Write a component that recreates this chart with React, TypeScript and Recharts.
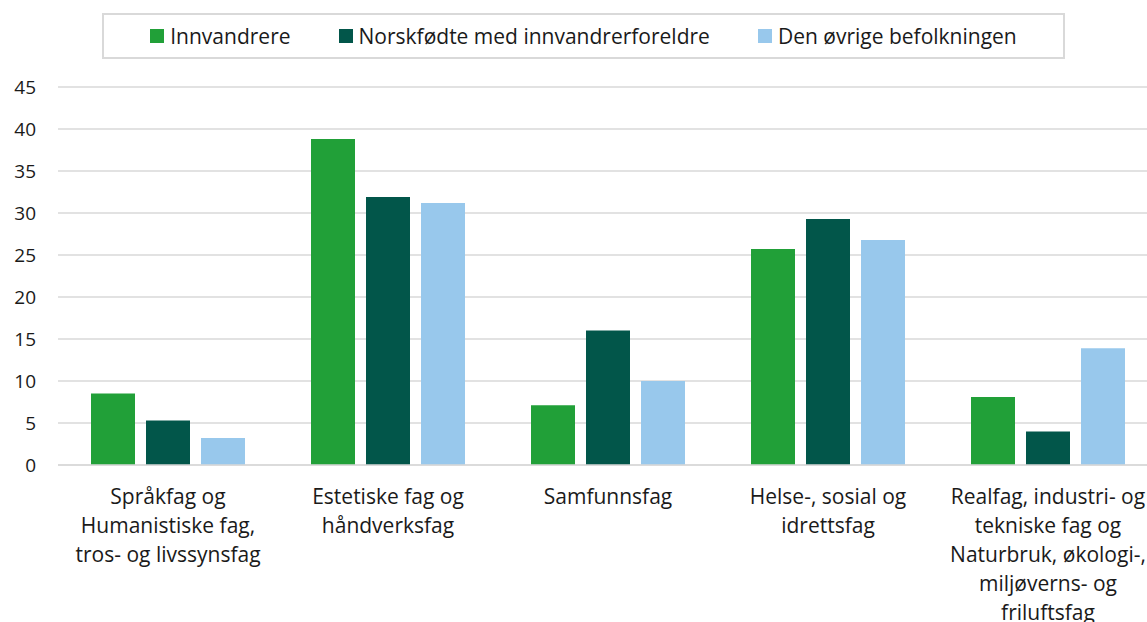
import { BarChart, Bar, XAxis, YAxis, CartesianGrid, Legend } from "recharts";

const categories = [
  "Språkfag og\nHumanistiske fag,\ntros- og livssynsfag",
  "Estetiske fag og\nhåndverksfag",
  "Samfunnsfag",
  "Helse-, sosial og\nidrettsfag",
  "Realfag, industri- og\ntekniske fag og\nNaturbruk, økologi-,\nmiljøverns- og\nfriluftsfag",
];

const innvandrere = [8.5, 38.8, 7.1, 25.7, 8.1];
const norskfodte = [5.3, 31.9, 16.0, 29.3, 4.0];
const ovrige = [3.2, 31.2, 10.0, 26.8, 13.9];

const yTicks = [0, 5, 10, 15, 20, 25, 30, 35, 40, 45];

const SERIES = [
  { key: "innvandrere", name: "Innvandrere", color: "#21a038" },
  { key: "norskfodte", name: "Norskfødte med innvandrerforeldre", color: "#02564a" },
  { key: "ovrige", name: "Den øvrige befolkningen", color: "#98c8ec" },
];

const data = categories.map((c, i) => ({
  category: c,
  innvandrere: innvandrere[i],
  norskfodte: norskfodte[i],
  ovrige: ovrige[i],
}));

const FONT = "'Open Sans', sans-serif";

function CategoryTick(props: any) {
  const { x, y, payload } = props;
  const lines = String(payload.value).split("\n");
  return (
    <text x={x} y={y + 31} textAnchor="middle" fill="#1a1a1a" fontSize={21} fontFamily={FONT}>
      {lines.map((l, i) => (
        <tspan key={i} x={x} dy={i === 0 ? 0 : 29}>
          {l}
        </tspan>
      ))}
    </text>
  );
}

function LegendBox() {
  return (
    <div
      style={{
        boxSizing: "border-box",
        height: 46,
        border: "2px solid #d9d9d9",
        display: "flex",
        alignItems: "center",
        justifyContent: "center",
        gap: 48,
        fontFamily: FONT,
        fontSize: 21,
        color: "#1a1a1a",
      }}
    >
      {SERIES.map((s) => (
        <div key={s.key} style={{ display: "flex", alignItems: "center" }}>
          <span style={{ width: 14, height: 14, background: s.color, marginRight: 6, display: "inline-block" }} />
          <span>{s.name}</span>
        </div>
      ))}
    </div>
  );
}

export default function App() {
  return (
    <div style={{ position: "absolute", top: 0, left: 0, width: 1147, height: 622, background: "#fff", overflow: "hidden" }}>
      <BarChart
        width={1147}
        height={622}
        data={data}
        margin={{ top: 41, right: -11, bottom: 0, left: 0 }}
        barGap={11}
        barCategoryGap={33}
      >
        <Legend
          verticalAlign="top"
          content={() => <LegendBox />}
          wrapperStyle={{ top: 13, left: 102, width: 963, height: 46 }}
        />
        <CartesianGrid vertical={false} stroke="#d9d9d9" strokeWidth={1.5} />
        <XAxis
          dataKey="category"
          tick={<CategoryTick />}
          tickLine={false}
          axisLine={{ stroke: "#d9d9d9", strokeWidth: 1.5 }}
          interval={0}
          height={157}
        />
        <YAxis
          domain={[0, 45]}
          ticks={yTicks}
          tickLine={false}
          axisLine={false}
          width={58}
          tickSize={0}
          tickMargin={22}
          tick={{ fill: "#1a1a1a", fontSize: 19, fontFamily: FONT }}
        />
        {SERIES.map((s) => (
          <Bar
            key={s.key}
            dataKey={s.key}
            name={s.name}
            fill={s.color}
            barSize={44}
            isAnimationActive={false}
          />
        ))}
      </BarChart>
    </div>
  );
}
